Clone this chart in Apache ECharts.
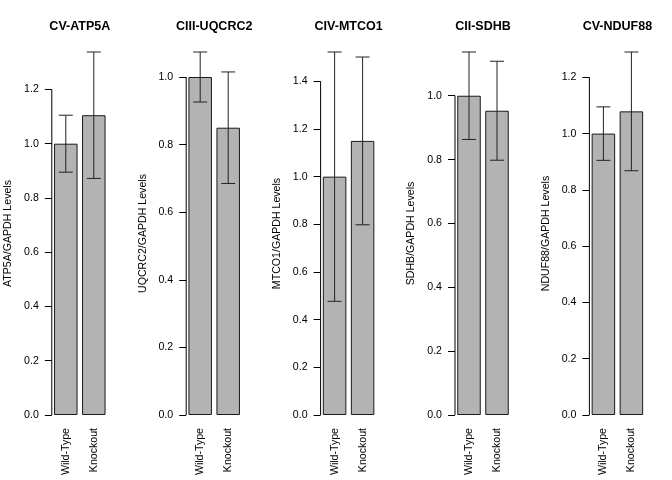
<!DOCTYPE html>
<html>
<head>
<meta charset="utf-8">
<script src="https://cdn.jsdelivr.net/npm/echarts@6/dist/echarts.min.js"></script>
<style>html,body{margin:0;padding:0;background:#fff;}#c{width:672px;height:480px;}</style>
</head>
<body>
<div id="c"></div>
<script>
// ---- data ----
const categories = ['Wild-Type', 'Knockout'];
const titles = ['CV-ATP5A', 'CIII-UQCRC2', 'CIV-MTCO1', 'CII-SDHB', 'CV-NDUF88'];
const yNames = ['ATP5A/GAPDH Levels', 'UQCRC2/GAPDH Levels', 'MTCO1/GAPDH Levels', 'SDHB/GAPDH Levels', 'NDUF88/GAPDH Levels'];

const atp5aMean  = [1.000, 1.105];
const atp5aErr   = [0.105, 0.233];
const uqcrc2Mean = [1.000, 0.850];
const uqcrc2Err  = [0.074, 0.165];
const mtco1Mean  = [1.000, 1.150];
const mtco1Err   = [0.523, 0.352];
const sdhbMean   = [1.000, 0.953];
const sdhbErr    = [0.137, 0.155];
const nduf88Mean = [1.000, 1.079];
const nduf88Err  = [0.095, 0.211];

const ticksATP5A  = [0.0, 0.2, 0.4, 0.6, 0.8, 1.0, 1.2];
const ticksUQCRC2 = [0.0, 0.2, 0.4, 0.6, 0.8, 1.0];
const ticksMTCO1  = [0.0, 0.2, 0.4, 0.6, 0.8, 1.0, 1.2, 1.4];
const ticksSDHB   = [0.0, 0.2, 0.4, 0.6, 0.8, 1.0];
const ticksNDUF88 = [0.0, 0.2, 0.4, 0.6, 0.8, 1.0, 1.2];

const means = [atp5aMean, uqcrc2Mean, mtco1Mean, sdhbMean, nduf88Mean];
const errs  = [atp5aErr, uqcrc2Err, mtco1Err, sdhbErr, nduf88Err];
const ticks = [ticksATP5A, ticksUQCRC2, ticksMTCO1, ticksSDHB, ticksNDUF88];

// ---- layout ----
const FONT = "'Liberation Sans', Arial, Helvetica, sans-serif";
const panelW = 134.4, gLeft0 = 51.8, gTop = 52, gW = 56, gH = 363;

const option = {
  animation: false,
  backgroundColor: '#ffffff',
  title: [], grid: [], xAxis: [], yAxis: [], series: []
};

for (let i = 0; i < 5; i++) {
  const left = gLeft0 + panelW * i;
  const m = means[i], e = errs[i], t = ticks[i];
  const top = Math.max(...m.map((v, k) => v + e[k]));
  option.title.push({
    text: titles[i], left: left + gW / 2, top: 20, textAlign: 'center', padding: 0,
    textStyle: { fontFamily: FONT, fontSize: 12.5, fontWeight: 'bold', color: '#000' }
  });
  option.grid.push({ left: left, top: gTop, width: gW, height: gH });
  option.xAxis.push({
    gridIndex: i, type: 'category', data: categories,
    axisLine: { show: false }, axisTick: { show: false },
    axisLabel: { rotate: 90, margin: 13, fontFamily: FONT, fontSize: 10.6, color: '#000', interval: 0 }
  });
  option.yAxis.push({
    gridIndex: i, type: 'value', min: 0, max: top, interval: 0.2,
    name: yNames[i], nameLocation: 'middle', nameGap: 38,
    nameTextStyle: { fontFamily: FONT, fontSize: 10.6, color: '#000' },
    axisLine: { show: false }, splitLine: { show: false },
    axisTick: { show: true, length: 7, lineStyle: { color: '#000', width: 1 }, customValues: t },
    axisLabel: { margin: 13, fontFamily: FONT, fontSize: 10.6, color: '#000', customValues: t,
      formatter: v => Number(v).toFixed(1) }
  });
  option.series.push({
    type: 'bar', xAxisIndex: i, yAxisIndex: i, data: m, barWidth: 23.5,
    itemStyle: { color: '#b3b3b3', borderColor: '#1a1a1a', borderWidth: 1 }, z: 2
  });
  // y-axis line from first to last tick (R style)
  option.series.push({
    type: 'custom', xAxisIndex: i, yAxisIndex: i,
    data: [[0, t[0], t[t.length - 1]]],
    renderItem: function (params, api) {
      const x = params.coordSys.x;
      const p0 = api.coord([0, api.value(1)]);
      const p1 = api.coord([0, api.value(2)]);
      return { type: 'line', shape: { x1: x, y1: p0[1], x2: x, y2: p1[1] },
        style: { stroke: '#000', lineWidth: 1 } };
    }, z: 3, silent: true
  });
  // error bars
  option.series.push({
    type: 'custom', xAxisIndex: i, yAxisIndex: i,
    data: m.map((v, k) => [k, v - e[k], v + e[k]]),
    renderItem: function (params, api) {
      const lo = api.coord([api.value(0), api.value(1)]);
      const hi = api.coord([api.value(0), api.value(2)]);
      const x = lo[0], w = 7;
      const st = { stroke: '#222', lineWidth: 1 };
      return { type: 'group', children: [
        { type: 'line', shape: { x1: x, y1: lo[1], x2: x, y2: hi[1] }, style: st },
        { type: 'line', shape: { x1: x - w, y1: lo[1], x2: x + w, y2: lo[1] }, style: st },
        { type: 'line', shape: { x1: x - w, y1: hi[1], x2: x + w, y2: hi[1] }, style: st }
      ]};
    }, z: 4, silent: true
  });
}

const chart = echarts.init(document.getElementById('c'), null, { renderer: 'canvas' });
chart.setOption(option);
</script>
</body>
</html>
